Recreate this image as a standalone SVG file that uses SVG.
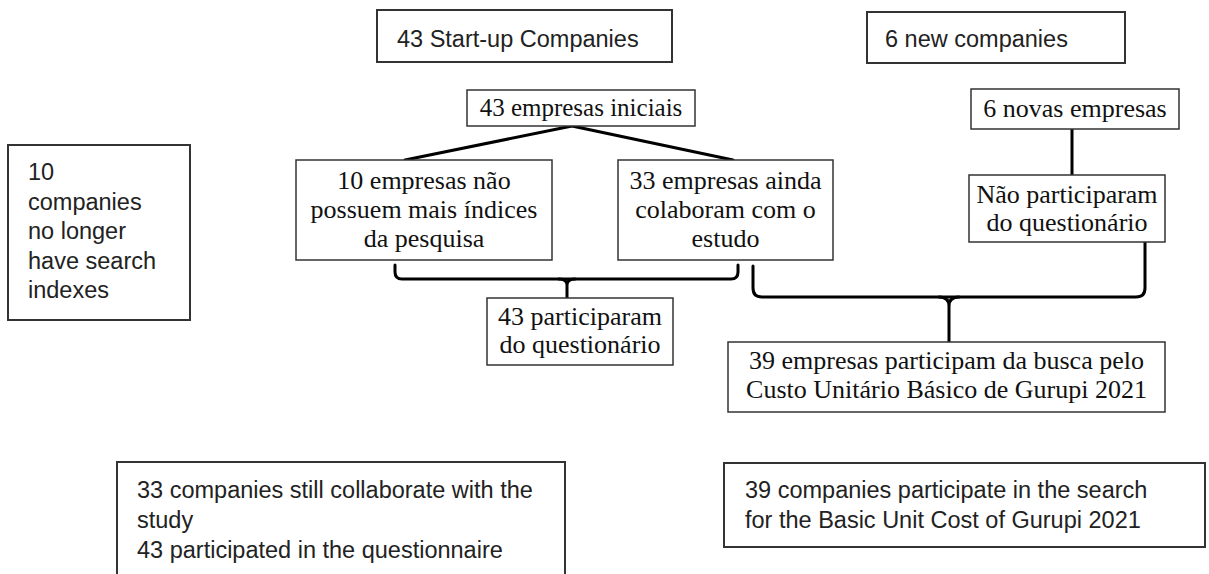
<svg xmlns="http://www.w3.org/2000/svg" width="1209" height="574" viewBox="0 0 1209 574">
<style>
.en{fill:#fff;stroke:#333;stroke-width:2}
.pt{fill:#fff;stroke:#333;stroke-width:1.5}
.ten{font-family:"Liberation Sans",Arial,sans-serif;font-size:23.5px;fill:#222}
.tpt{font-family:"Liberation Serif","Times New Roman",serif;font-size:26px;fill:#111;text-anchor:middle}
.con{fill:none;stroke:#000;stroke-width:3;stroke-linejoin:round;stroke-linecap:round}
</style>
<rect width="1209" height="574" fill="#fff"/>
<g id="connectors">
<path class="con" d="M405,160 L572,126 L733,160"/>
<path class="con" d="M395,265 V272 Q395,279 402,279 H731 Q738,279 738,272 V265"/>
<path class="con" d="M559,279 Q567,279 567,285 V298 M575,279 Q567,279 567,285"/>
<path class="con" d="M753,266 V288 Q753,297 762,297 H1136 Q1145,297 1145,288 V242"/>
<path class="con" d="M939,297 Q949,297 949,306 V342 M959,297 Q949,297 949,306"/>
<path class="con" d="M1072,129 V175"/>
</g>
<g id="en-startup">
<rect class="en" x="377" y="10" width="295" height="52"/>
<text class="ten" x="397" y="47">43 Start-up Companies</text>
</g>
<g id="en-new">
<rect class="en" x="867" y="12" width="258" height="51"/>
<text class="ten" x="885" y="47">6 new companies</text>
</g>
<g id="en-ten">
<rect class="en" x="8" y="145" width="182" height="175"/>
<text class="ten" x="28" y="180">10</text>
<text class="ten" x="28" y="209.5">companies</text>
<text class="ten" x="28" y="239">no longer</text>
<text class="ten" x="28" y="268.5">have search</text>
<text class="ten" x="28" y="298">indexes</text>
</g>
<g id="en-33">
<rect class="en" x="117" y="462" width="448" height="130"/>
<text class="ten" x="137" y="498">33 companies still collaborate with the</text>
<text class="ten" x="137" y="528">study</text>
<text class="ten" x="137" y="558">43 participated in the questionnaire</text>
</g>
<g id="en-39">
<rect class="en" x="724" y="463" width="481" height="84"/>
<text class="ten" x="745" y="498">39 companies participate in the search</text>
<text class="ten" x="745" y="528">for the Basic Unit Cost of Gurupi 2021</text>
</g>
<g id="pt-43">
<rect class="pt" x="467" y="90" width="228" height="36"/>
<text class="tpt" x="581" y="116" style="font-size:25px">43 empresas iniciais</text>
</g>
<g id="pt-10">
<rect class="pt" x="296" y="160" width="256" height="100"/>
<text class="tpt" x="424" y="189">10 empresas não</text>
<text class="tpt" x="424" y="218">possuem mais índices</text>
<text class="tpt" x="424" y="247">da pesquisa</text>
</g>
<g id="pt-33">
<rect class="pt" x="618" y="160" width="215" height="100"/>
<text class="tpt" x="725.5" y="189">33 empresas ainda</text>
<text class="tpt" x="725.5" y="218">colaboram com o</text>
<text class="tpt" x="725.5" y="247">estudo</text>
</g>
<g id="pt-6">
<rect class="pt" x="971" y="89" width="208" height="40"/>
<text class="tpt" x="1075" y="117">6 novas empresas</text>
</g>
<g id="pt-nao">
<rect class="pt" x="969" y="175" width="196" height="67"/>
<text class="tpt" x="1067" y="203">Não participaram</text>
<text class="tpt" x="1067" y="231">do questionário</text>
</g>
<g id="pt-43p">
<rect class="pt" x="487" y="298" width="186" height="67"/>
<text class="tpt" x="580" y="325">43 participaram</text>
<text class="tpt" x="580" y="353">do questionário</text>
</g>
<g id="pt-39">
<rect class="pt" x="728" y="342" width="437" height="70"/>
<text class="tpt" x="946.5" y="369">39 empresas participam da busca pelo</text>
<text class="tpt" x="946.5" y="398">Custo Unitário Básico de Gurupi 2021</text>
</g>
</svg>
